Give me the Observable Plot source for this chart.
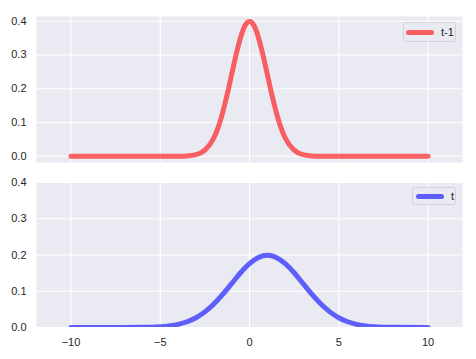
<!DOCTYPE html>
<html>
<head>
<meta charset="utf-8">
<script src="https://cdn.jsdelivr.net/npm/d3@7"></script>
<script src="https://cdn.jsdelivr.net/npm/@observablehq/plot@0.6"></script>
<style>
  html, body { margin: 0; padding: 0; background: white; }
  #wrap { position: relative; width: 476px; height: 359px; font-family: "Liberation Sans", Arial, sans-serif; color: #262626; }
  #wrap svg { display: block; }
  .leg { position: absolute; box-sizing: border-box; border: 1px solid #d2d2d8; border-radius: 3px; background: rgba(234,234,242,0.8); font-size: 11px; }
  .leg .sw { position: absolute; height: 5px; border-radius: 2.5px; }
  .leg .lb { position: absolute; line-height: 11px; }
</style>
</head>
<body>
<div id="wrap"></div>
<script>
// Series t-1 (top panel)
const xPrev = [-10, -6, -4, -3.5, -3, -2.5, -2, -1.75, -1.5, -1.25, -1, -0.75, -0.5, -0.25, 0, 0.25, 0.5, 0.75, 1, 1.25, 1.5, 1.75, 2, 2.5, 3, 3.5, 4, 6, 10];
const yPrev = [0, 0, 0.0001, 0.0009, 0.0044, 0.018, 0.054, 0.086, 0.130, 0.183, 0.242, 0.301, 0.352, 0.387, 0.399, 0.387, 0.352, 0.301, 0.242, 0.183, 0.130, 0.086, 0.054, 0.018, 0.0044, 0.0009, 0.0001, 0, 0];
// Series t (bottom panel)
const xCur = [-10, -8, -6, -5, -4, -3.5, -3, -2.5, -2, -1.5, -1, -0.5, 0, 0.5, 1, 1.5, 2, 2.5, 3, 3.5, 4, 4.5, 5, 5.5, 6, 7, 8, 10];
const yCur = [0, 0.00007, 0.0004, 0.0022, 0.0088, 0.0159, 0.0270, 0.0431, 0.0648, 0.0913, 0.1210, 0.1510, 0.1760, 0.1933, 0.1995, 0.1933, 0.1760, 0.1510, 0.1210, 0.0913, 0.0648, 0.0431, 0.0270, 0.0159, 0.0088, 0.0022, 0.0004, 0];
// Tick labels
const xTicks = [-10, -5, 0, 5, 10];
const yTicks = [0, 0.1, 0.2, 0.3, 0.4];
const labels = ["t-1", "t"];

const prevData = xPrev.map((x, i) => ({x, y: yPrev[i]}));
const curData = xCur.map((x, i) => ({x, y: yCur[i]}));

const bg = "#EAEAF2";
const style = {fontFamily: "'Liberation Sans', Arial, sans-serif", fontSize: "11px", color: "#262626", background: "white", overflow: "visible"};
const xDomain = [-11.93, 11.93];

function panel(data, color, yDomain, height, mt, mb, showX) {
  const marks = [
    Plot.frame({fill: bg, stroke: null}),
    Plot.gridX({ticks: xTicks, stroke: "white", strokeOpacity: 1, strokeWidth: 1.1}),
    Plot.gridY({ticks: yTicks, stroke: "white", strokeOpacity: 1, strokeWidth: 1.1}),
    Plot.axisY({ticks: yTicks, tickSize: 0, tickPadding: 10, tickFormat: d3.format(".1f"), label: null}),
    Plot.line(data, {x: "x", y: "y", curve: "monotone-x", stroke: color, strokeOpacity: 0.6, strokeWidth: 5, strokeLinecap: "round", clip: true})
  ];
  if (showX) marks.push(Plot.axisX({ticks: xTicks, tickSize: 0, tickPadding: 11, label: null}));
  return Plot.plot({
    width: 476, height, marginLeft: 36, marginRight: 14, marginTop: mt, marginBottom: mb,
    style,
    x: {domain: xDomain, axis: null},
    y: {domain: yDomain, axis: null},
    marks
  });
}

const wrap = document.getElementById("wrap");
wrap.appendChild(panel(prevData, "red", [-0.0187, 0.4139], 170, 16, 8, false));
wrap.appendChild(panel(curData, "blue", [0, 0.4], 189, 12, 32, true));

function legend(label, color, left, top, w, h, swL, swW, lbL) {
  const d = document.createElement("div");
  d.className = "leg";
  d.style.left = left + "px"; d.style.top = top + "px"; d.style.width = w + "px"; d.style.height = h + "px";
  const s = document.createElement("div");
  s.className = "sw"; s.style.background = color; s.style.left = swL + "px"; s.style.width = swW + "px"; s.style.top = (h / 2 - 3.5) + "px";
  const t = document.createElement("div");
  t.className = "lb"; t.textContent = label; t.style.left = lbL + "px"; t.style.top = (h / 2 - 6.5) + "px";
  d.appendChild(s); d.appendChild(t);
  wrap.appendChild(d);
}
legend(labels[0], "rgba(255,0,0,0.6)", 403, 22, 53, 20, 2, 28, 37);
legend(labels[1], "rgba(0,0,255,0.6)", 412, 187, 44, 18, 3, 28, 38);
</script>
</body>
</html>
